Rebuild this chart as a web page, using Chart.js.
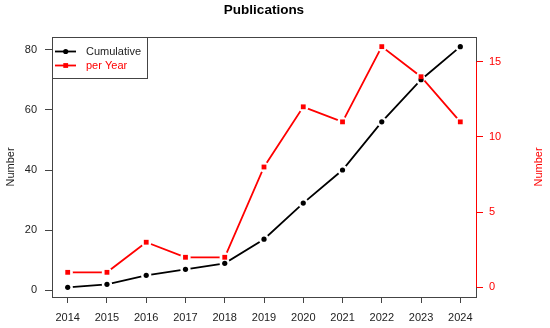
<!DOCTYPE html>
<html>
<head>
<meta charset="utf-8">
<script src="https://cdn.jsdelivr.net/npm/chart.js@4.4.0/dist/chart.umd.min.js"></script>
<style>
  html, body { margin: 0; padding: 0; background: #fff; }
</style>
</head>
<body>
<canvas id="pubChart" width="550" height="328"></canvas>
<script>
// Datos del gráfico
const years = [2014, 2015, 2016, 2017, 2018, 2019, 2020, 2021, 2022, 2023, 2024];
const cumulative = [1, 2, 5, 7, 9, 17, 29, 40, 56, 70, 81];
const perYear = [1, 1, 3, 2, 2, 8, 12, 11, 16, 14, 11];
const leftTicks = [0, 20, 40, 60, 80];
const rightTicks = [0, 5, 10, 15];
const seriesNames = ['Cumulative', 'per Year'];
const chartTitle = 'Publications';
const axisTitle = 'Number';

const FONT = '"Liberation Sans", Arial, sans-serif';
const BOX = '#444';
const RED = '#ff0000';
const GAP = 5.2; // hueco de la línea alrededor de cada punto (estilo type="b")

const toXY = vals => years.map((x, i) => ({ x: x, y: vals[i] }));

// Recorta la línea alrededor de sus propios puntos
const gapPlugin = {
    id: 'gaps',
    beforeDatasetDraw(chart, args) {
        const ds = chart.data.datasets[args.index];
        if (!ds.gap) return;
        const ctx = chart.ctx;
        ctx.save();
        ctx.beginPath();
        ctx.rect(0, 0, chart.width, chart.height);
        args.meta.data.forEach(p => {
            ctx.moveTo(p.x + GAP, p.y);
            ctx.arc(p.x, p.y, GAP, 0, Math.PI * 2);
        });
        ctx.clip('evenodd');
    },
    afterDatasetDraw(chart, args) {
        const ds = chart.data.datasets[args.index];
        if (ds.gap) chart.ctx.restore();
    }
};

// Caja, eje derecho, leyenda y títulos
const framePlugin = {
    id: 'frame',
    afterDraw(chart) {
        const ctx = chart.ctx;
        const a = chart.chartArea;
        const y2 = chart.scales.y2;
        const px = v => Math.floor(v) + 0.5;

        ctx.save();
        ctx.lineWidth = 1;
        ctx.strokeStyle = BOX;
        ctx.strokeRect(px(a.left), px(a.top), Math.round(a.right - a.left), Math.round(a.bottom - a.top));

        // línea del eje derecho (solo entre ticks extremos)
        ctx.strokeStyle = RED;
        ctx.beginPath();
        ctx.moveTo(px(a.right), y2.getPixelForValue(rightTicks[0]));
        ctx.lineTo(px(a.right), y2.getPixelForValue(rightTicks[rightTicks.length - 1]));
        ctx.stroke();

        // leyenda
        const lx = px(a.left), ly = px(a.top);
        ctx.fillStyle = '#fff';
        ctx.fillRect(lx, ly, 95, 41);
        ctx.strokeStyle = BOX;
        ctx.strokeRect(lx, ly, 95, 41);
        const rows = [
            { y: a.top + 14.5, color: '#000', style: 'circle' },
            { y: a.top + 28.5, color: RED, style: 'rect' }
        ];
        rows.forEach((r, i) => {
            ctx.strokeStyle = r.color;
            ctx.lineWidth = 1.8;
            ctx.beginPath();
            ctx.moveTo(a.left + 3, r.y);
            ctx.lineTo(a.left + 24, r.y);
            ctx.stroke();
            ctx.fillStyle = r.color;
            if (r.style === 'circle') {
                ctx.beginPath();
                ctx.arc(a.left + 13.7, r.y, 2.6, 0, Math.PI * 2);
                ctx.fill();
            } else {
                ctx.fillRect(a.left + 13.7 - 2.4, r.y - 2.4, 4.8, 4.8);
            }
            ctx.fillStyle = i === 0 ? '#222' : RED;
            ctx.font = '11px ' + FONT;
            ctx.textAlign = 'left';
            ctx.textBaseline = 'middle';
            ctx.fillText(seriesNames[i], a.left + 34, r.y);
        });

        // título
        ctx.fillStyle = '#000';
        ctx.font = 'bold 13.5px ' + FONT;
        ctx.textAlign = 'center';
        ctx.textBaseline = 'middle';
        ctx.fillText(chartTitle, (a.left + a.right) / 2, 10);

        // títulos de ejes
        ctx.font = '11px ' + FONT;
        const midY = (a.top + a.bottom) / 2;
        [[11, '#222'], [539, RED]].forEach(([x, c]) => {
            ctx.save();
            ctx.translate(x, midY);
            ctx.rotate(-Math.PI / 2);
            ctx.fillStyle = c;
            ctx.fillText(axisTitle, 0, 0);
            ctx.restore();
        });
        ctx.restore();
    }
};

const tickFont = { family: FONT, size: 11 };

new Chart(document.getElementById('pubChart'), {
    type: 'line',
    data: {
        datasets: [
            { label: seriesNames[0], data: toXY(cumulative), yAxisID: 'y', borderColor: '#000',
              borderWidth: 1.8, pointRadius: 0, gap: true, order: 4 },
            { label: seriesNames[0], data: toXY(cumulative), yAxisID: 'y', showLine: false,
              pointRadius: 2.6, pointBackgroundColor: '#000', pointBorderWidth: 0, order: 3 },
            { label: seriesNames[1], data: toXY(perYear), yAxisID: 'y2', borderColor: RED,
              borderWidth: 1.8, pointRadius: 0, gap: true, order: 2 },
            { label: seriesNames[1], data: toXY(perYear), yAxisID: 'y2', showLine: false,
              pointStyle: 'rect', pointRadius: 3.4, pointBackgroundColor: RED, pointBorderWidth: 0, order: 1 }
        ]
    },
    options: {
        responsive: false,
        animation: false,
        layout: { padding: { top: 37, left: 0, right: 0, bottom: 0 } },
        plugins: { legend: { display: false }, tooltip: { enabled: false }, title: { display: false } },
        elements: { line: { tension: 0, fill: false } },
        scales: {
            x: {
                type: 'linear', min: 2013.6, max: 2024.4,
                afterBuildTicks: s => { s.ticks = years.map(v => ({ value: v })); },
                afterFit: s => { s.height = 31; },
                ticks: { autoSkip: false, maxRotation: 0, padding: 8, color: '#222', font: tickFont,
                         callback: v => String(v) },
                grid: { drawOnChartArea: false, drawTicks: true, tickLength: 6, color: BOX },
                border: { display: false }
            },
            y: {
                position: 'left', min: -2.2, max: 84.2,
                afterBuildTicks: s => { s.ticks = leftTicks.map(v => ({ value: v })); },
                afterFit: s => { s.width = 52; },
                ticks: { padding: 8, color: '#222', font: tickFont, callback: v => String(v) },
                grid: { drawOnChartArea: false, drawTicks: true, tickLength: 7, color: BOX },
                border: { display: false }
            },
            y2: {
                position: 'right', min: -0.64, max: 16.64,
                afterBuildTicks: s => { s.ticks = rightTicks.map(v => ({ value: v })); },
                afterFit: s => { s.width = 74; },
                ticks: { padding: 6, color: RED, font: tickFont, callback: v => String(v) },
                grid: { drawOnChartArea: false, drawTicks: true, tickLength: 7, color: RED },
                border: { display: false }
            }
        }
    },
    plugins: [gapPlugin, framePlugin]
});
</script>
</body>
</html>
